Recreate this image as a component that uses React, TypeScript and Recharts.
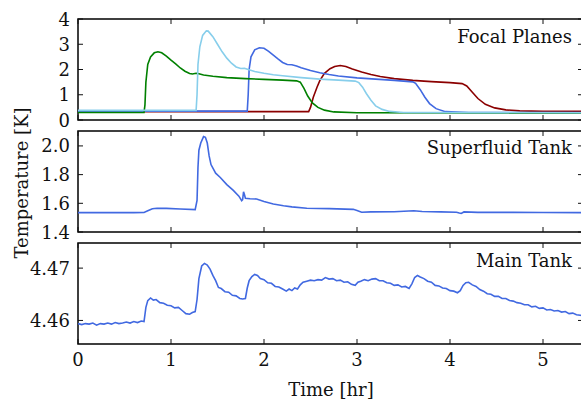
import { LineChart, Line, XAxis, YAxis, ReferenceArea } from 'recharts';

const T_MAX = 5.43;
const X_TICKS = [0, 1, 2, 3, 4, 5];

// Focal planes [K]
const greenT = [0, 0.71, 0.72, 0.73, 0.75, 0.78, 0.82, 0.86, 0.9, 0.95, 1.0, 1.05, 1.1, 1.15, 1.2, 1.23, 1.27, 1.3, 1.35, 1.45, 1.6, 1.8, 2.0, 2.2, 2.35, 2.39, 2.43, 2.47, 2.52, 2.58, 2.65, 2.75, 3.0, 5.43];
const greenK = [0.3, 0.3, 0.6, 1.5, 2.2, 2.5, 2.66, 2.7, 2.66, 2.53, 2.37, 2.22, 2.06, 1.93, 1.84, 1.82, 1.85, 1.83, 1.78, 1.73, 1.68, 1.64, 1.61, 1.58, 1.55, 1.5, 1.25, 0.95, 0.68, 0.5, 0.39, 0.32, 0.29, 0.28];

const skyT = [0, 1.27, 1.28, 1.29, 1.31, 1.34, 1.38, 1.4, 1.45, 1.5, 1.55, 1.6, 1.65, 1.7, 1.75, 1.79, 1.83, 1.9, 2.0, 2.1, 2.2, 2.4, 2.6, 2.8, 2.98, 3.02, 3.06, 3.1, 3.15, 3.2, 3.27, 3.35, 3.5, 5.43];
const skyK = [0.38, 0.38, 1.0, 2.2, 2.9, 3.35, 3.53, 3.52, 3.3, 3.0, 2.7, 2.45, 2.25, 2.1, 2.04, 2.05, 2.0, 1.92, 1.85, 1.79, 1.75, 1.68, 1.62, 1.58, 1.54, 1.48, 1.3, 1.05, 0.78, 0.56, 0.42, 0.34, 0.3, 0.29];

const blueT = [0, 1.82, 1.83, 1.84, 1.86, 1.9, 1.95, 2.0, 2.05, 2.1, 2.15, 2.2, 2.25, 2.3, 2.35, 2.4, 2.5, 2.6, 2.7, 2.8, 3.0, 3.2, 3.4, 3.6, 3.63, 3.68, 3.73, 3.78, 3.85, 3.95, 4.2, 5.43];
const blueK = [0.35, 0.35, 1.0, 2.0, 2.5, 2.78, 2.86, 2.84, 2.72, 2.57, 2.42, 2.28, 2.2, 2.19, 2.14, 2.07, 1.96, 1.87, 1.8, 1.74, 1.67, 1.62, 1.57, 1.51, 1.45, 1.2, 0.9, 0.65, 0.45, 0.33, 0.3, 0.29];

const redT = [0, 2.48, 2.5, 2.53, 2.57, 2.6, 2.65, 2.71, 2.76, 2.82, 2.88, 2.95, 3.05, 3.15, 3.25, 3.4, 3.6, 3.8, 4.0, 4.13, 4.18, 4.24, 4.3, 4.38, 4.48, 4.6, 4.75, 5.0, 5.43];
const redK = [0.33, 0.33, 0.5, 0.9, 1.3, 1.56, 1.85, 2.03, 2.12, 2.16, 2.12, 2.02, 1.9, 1.8, 1.72, 1.64, 1.57, 1.52, 1.48, 1.44, 1.35, 1.1, 0.85, 0.62, 0.48, 0.4, 0.36, 0.34, 0.34];

// Superfluid tank [K]
const sfT = [0, 0.3, 0.6, 0.71, 0.75, 0.8, 0.85, 0.95, 1.1, 1.26, 1.28, 1.29, 1.3, 1.32, 1.35, 1.37, 1.39, 1.41, 1.43, 1.48, 1.53, 1.6, 1.67, 1.73, 1.76, 1.77, 1.78, 1.79, 1.8, 1.85, 1.92, 2.0, 2.1, 2.21, 2.3, 2.46, 2.7, 2.96, 3.0, 3.05, 3.15, 3.4, 3.61, 3.7, 3.9, 4.07, 4.1, 4.12, 4.15, 4.3, 4.68, 5.0, 5.43];
const sfK = [1.535, 1.535, 1.535, 1.536, 1.548, 1.562, 1.566, 1.565, 1.56, 1.556, 1.62, 1.85, 1.97, 2.02, 2.065, 2.06, 2.02, 1.93, 1.87, 1.81, 1.78, 1.73, 1.69, 1.65, 1.618, 1.625, 1.68, 1.66, 1.635, 1.632, 1.63, 1.612, 1.595, 1.583, 1.575, 1.566, 1.563, 1.558, 1.55, 1.538, 1.54, 1.541, 1.548, 1.543, 1.54, 1.538, 1.532, 1.53, 1.54, 1.537, 1.537, 1.536, 1.535];

// Main tank [K]
const mainT = [
  0, 0.04, 0.08, 0.12, 0.16, 0.2, 0.24, 0.28, 0.32, 0.36, 0.4, 0.44, 0.48, 0.52, 0.56, 0.6, 0.64, 0.68, 0.71, 0.73,
  0.75, 0.78, 0.81, 0.84, 0.88, 0.92, 0.96, 1.0, 1.04, 1.08, 1.12, 1.16, 1.2, 1.23, 1.26, 1.28, 1.3, 1.33, 1.36, 1.39,
  1.42, 1.45, 1.48, 1.51, 1.54, 1.58, 1.62, 1.66, 1.7, 1.74, 1.77, 1.8, 1.82, 1.84, 1.87, 1.9, 1.93, 1.96, 2.0, 2.04,
  2.08, 2.12, 2.16, 2.2, 2.24, 2.27, 2.3, 2.33, 2.36, 2.39, 2.42, 2.46, 2.5, 2.54, 2.58, 2.62, 2.66, 2.7, 2.74, 2.78,
  2.82, 2.86, 2.9, 2.94, 2.98, 3.01, 3.04, 3.08, 3.12, 3.16, 3.2, 3.24, 3.28, 3.32, 3.36, 3.4, 3.44, 3.48, 3.52, 3.56,
  3.59, 3.62, 3.65, 3.68, 3.72, 3.76, 3.8, 3.84, 3.88, 3.92, 3.96, 4.0, 4.04, 4.08, 4.11, 4.14, 4.17, 4.2, 4.24, 4.28,
  4.32, 4.36, 4.4, 4.44, 4.48, 4.52, 4.56, 4.6, 4.64, 4.68, 4.72, 4.76, 4.8, 4.84, 4.88, 4.92, 4.96, 5.0, 5.04, 5.08,
  5.12, 5.16, 5.2, 5.24, 5.28, 5.32, 5.36, 5.4, 5.43,
];
const mainK = [
  4.4594, 4.4592, 4.4594, 4.4593, 4.4595, 4.4591, 4.4594, 4.4593, 4.4595, 4.4593, 4.4596, 4.4594, 4.4595, 4.4597, 4.4595, 4.4598, 4.4596, 4.4599, 4.4598, 4.4625,
  4.4638, 4.4643, 4.4639, 4.464, 4.4634, 4.4633, 4.4629, 4.4628, 4.4624, 4.4625, 4.4619, 4.4613, 4.4612, 4.4615, 4.4617, 4.464, 4.468, 4.4704, 4.4709, 4.4706,
  4.4698, 4.4686, 4.4676, 4.4663, 4.4661, 4.4655, 4.4654, 4.4648, 4.4647, 4.4642, 4.4641, 4.4642, 4.4662, 4.4676, 4.4684, 4.4688, 4.4686, 4.468, 4.4678, 4.4672,
  4.4671, 4.4665, 4.4664, 4.466, 4.4656, 4.466, 4.4657, 4.4662, 4.466, 4.4668, 4.4673, 4.4675, 4.4677, 4.4676, 4.4678, 4.4677, 4.4682, 4.4679, 4.468, 4.4676,
  4.4677, 4.4673, 4.4674, 4.4669, 4.4667, 4.4673, 4.4675, 4.4678, 4.4676, 4.4679, 4.468, 4.4676, 4.4676, 4.4672, 4.4671, 4.4667, 4.4668, 4.4664, 4.4665, 4.4661,
  4.467, 4.4682, 4.4686, 4.4683, 4.468, 4.4675, 4.4673, 4.4667, 4.4666, 4.4662, 4.4661, 4.4657, 4.4656, 4.4653, 4.4657, 4.4667, 4.4672, 4.4673, 4.4668, 4.4665,
  4.4659, 4.4656, 4.4651, 4.465, 4.4646, 4.4646, 4.4642, 4.4642, 4.4638, 4.4637, 4.4634, 4.4633, 4.463, 4.463, 4.4626, 4.4627, 4.4623, 4.4624, 4.462, 4.4621,
  4.4618, 4.4619, 4.4616, 4.4617, 4.4613, 4.4614, 4.4611, 4.461, 4.4609,
];

const zip = (ts: number[], vs: number[]) => ts.map((t, i) => ({ t, v: vs[i] }));

const W = 581;
const H = 402;
const CHART_W = 600;
const PLOT_LEFT = 78;
const PLOT_W = 505;
const PANEL_H = 101;
const PAD = 14; // room above the plot for the top tick label
const FONT = "'DejaVu Serif', 'Liberation Serif', serif";
const INK = '#111';

type Series = { data: { t: number; v: number }[]; color: string };

function YTick(props: any) {
  const { x, y, payload, fmt } = props;
  const left = x + 8;
  return (
    <g>
      <line x1={left} x2={left + 5} y1={y} y2={y} stroke={INK} strokeWidth={1} />
      <line x1={left + PLOT_W - 5} x2={left + PLOT_W} y1={y} y2={y} stroke={INK} strokeWidth={1} />
      <text x={x} y={y + 6.5} textAnchor="end" fontFamily={FONT} fontSize={18} fill={INK}>
        {fmt(payload.value)}
      </text>
    </g>
  );
}

function XTick(props: any) {
  const { x, y, payload, showLabel } = props;
  return (
    <g>
      <line x1={x} x2={x} y1={y} y2={y - 5} stroke={INK} strokeWidth={1} />
      <line x1={x} x2={x} y1={y - PANEL_H} y2={y - PANEL_H + 5} stroke={INK} strokeWidth={1} />
      {showLabel && (
        <text x={x} y={y + 22} textAnchor="middle" fontFamily={FONT} fontSize={18} fill={INK}>
          {payload.value}
        </text>
      )}
    </g>
  );
}

function Panel({ top, domain, ticks, fmt, series, showX }: {
  top: number;
  domain: [number, number];
  ticks: number[];
  fmt: (v: number) => string;
  series: Series[];
  showX: boolean;
}) {
  const xH = showX ? 40 : 12;
  return (
    <div style={{ position: 'absolute', left: 0, top: top - PAD }}>
      <LineChart
        width={CHART_W}
        height={PAD + PANEL_H + xH}
        margin={{ top: PAD, right: CHART_W - PLOT_LEFT - PLOT_W, bottom: 0, left: PLOT_LEFT - 50 }}
      >
        <XAxis
          type="number"
          dataKey="t"
          domain={[0, T_MAX]}
          ticks={X_TICKS}
          interval={0}
          height={xH}
          tickSize={0}
          tickMargin={0}
          axisLine={false}
          tickLine={false}
          allowDataOverflow
          tick={(p: any) => <XTick {...p} showLabel={showX} />}
        />
        <YAxis
          type="number"
          domain={domain}
          ticks={ticks}
          interval={0}
          width={50}
          tickSize={0}
          tickMargin={8}
          axisLine={false}
          tickLine={false}
          allowDataOverflow
          tick={(p: any) => <YTick {...p} fmt={fmt} />}
        />
        {series.map((s, i) => (
          <Line
            key={i}
            data={s.data}
            dataKey="v"
            type="linear"
            stroke={s.color}
            strokeWidth={1.6}
            dot={false}
            activeDot={false}
            isAnimationActive={false}
          />
        ))}
        <ReferenceArea
          x1={0}
          x2={T_MAX}
          y1={domain[0]}
          y2={domain[1]}
          fill="none"
          stroke="#000"
          strokeWidth={1.5}
        />
      </LineChart>
    </div>
  );
}

export default function App() {
  return (
    <div style={{ position: 'absolute', left: 0, top: 0, width: W, height: H, overflow: 'hidden', background: '#fff' }}>
      <Panel
        top={19}
        domain={[0, 4]}
        ticks={[0, 1, 2, 3, 4]}
        fmt={(v) => String(v)}
        showX={false}
        series={[
          { data: zip(redT, redK), color: '#8b0000' },
          { data: zip(blueT, blueK), color: '#4169e1' },
          { data: zip(greenT, greenK), color: '#008000' },
          { data: zip(skyT, skyK), color: '#87ceeb' },
        ]}
      />
      <Panel
        top={131}
        domain={[1.4, 2.104]}
        ticks={[1.4, 1.6, 1.8, 2.0]}
        fmt={(v) => v.toFixed(1)}
        showX={false}
        series={[{ data: zip(sfT, sfK), color: '#4169e1' }]}
      />
      <Panel
        top={243}
        domain={[4.4555, 4.4748]}
        ticks={[4.46, 4.47]}
        fmt={(v) => v.toFixed(2)}
        showX
        series={[{ data: zip(mainT, mainK), color: '#4169e1' }]}
      />
      <svg width={W} height={H} style={{ position: 'absolute', left: 0, top: 0, pointerEvents: 'none' }}>
        <g fontFamily={FONT} fontSize={18} fill={INK}>
          <text x={572} y={43} textAnchor="end">Focal Planes</text>
          <text x={572} y={154} textAnchor="end">Superfluid Tank</text>
          <text x={572} y={267} textAnchor="end">Main Tank</text>
          <text x={331} y={396} textAnchor="middle">Time [hr]</text>
          <text transform="translate(28,183) rotate(-90)" textAnchor="middle">Temperature [K]</text>
        </g>
      </svg>
    </div>
  );
}
